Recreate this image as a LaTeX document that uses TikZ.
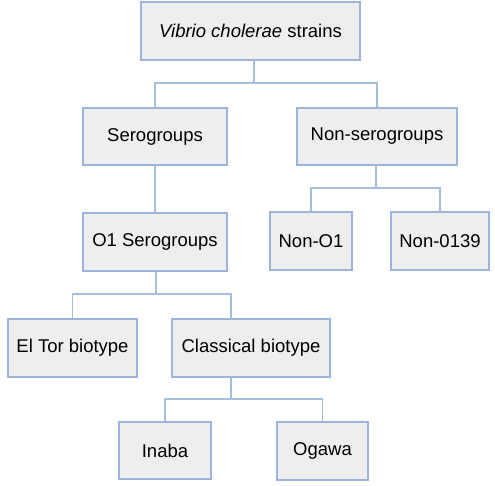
\documentclass[tikz,border=0pt]{standalone}
\usepackage{fontspec}
\setmainfont{Liberation Sans}
\begin{document}
\begin{tikzpicture}[x=1pt,y=-1pt,
  box/.style={draw=boxline,fill=boxfill,line width=1.3pt,rectangle,inner sep=0pt,
    font=\fontsize{18.5}{20}\selectfont},
  link/.style={draw=linkcol,line width=1.1pt}]
\definecolor{boxline}{HTML}{9DB3D9}
\definecolor{boxfill}{HTML}{EEEEEE}
\definecolor{linkcol}{HTML}{A6BDE0}
\useasboundingbox (0,0) rectangle (495,485);
\node[box,minimum width=219pt,minimum height=58pt] (top) at (250.5,31) {\textit{Vibrio cholerae} strains};
\node[box,minimum width=144pt,minimum height=57pt] (sero) at (155,136.5) {Serogroups};
\node[box,minimum width=160pt,minimum height=57pt] (nonsero) at (377,136.5) {Non-serogroups};
\node[box,minimum width=144pt,minimum height=58pt] (o1) at (155,242) {O1 Serogroups};
\node[box,minimum width=82pt,minimum height=58pt] (nono1) at (311,241) {Non-O1};
\node[box,minimum width=98pt,minimum height=58pt] (non0139) at (440,241) {Non-0139};
\node[box,minimum width=129pt,minimum height=58pt] (eltor) at (72.5,348) {El Tor biotype};
\node[box,minimum width=158pt,minimum height=58pt] (classical) at (251,348) {Classical biotype};
\node[box,minimum width=92pt,minimum height=57pt] (inaba) at (165,450.5) {Inaba};
\node[box,minimum width=91pt,minimum height=58pt] (ogawa) at (322.5,451) {Ogawa};
\coordinate (j1) at (254,83);
\coordinate (j2) at (376,188);
\coordinate (j3) at (156,294);
\coordinate (j4) at (231,399);
\coordinate (c3) at (231,319);
\draw[link] (top.south -| j1) -- (j1);
\draw[link] (sero.north) |- (j1) -| (nonsero.north);
\draw[link] (sero.south) -- (o1.north);
\draw[link] (nonsero.south -| j2) -- (j2);
\draw[link] (nono1.north) |- (j2) -| (non0139.north);
\draw[link] (o1.south -| j3) -- (j3);
\draw[link] (eltor.north) |- (j3) -| (c3);
\draw[link] (classical.south -| j4) -- (j4);
\draw[link] (inaba.north) |- (j4) -| (ogawa.north);
\end{tikzpicture}
\end{document}
